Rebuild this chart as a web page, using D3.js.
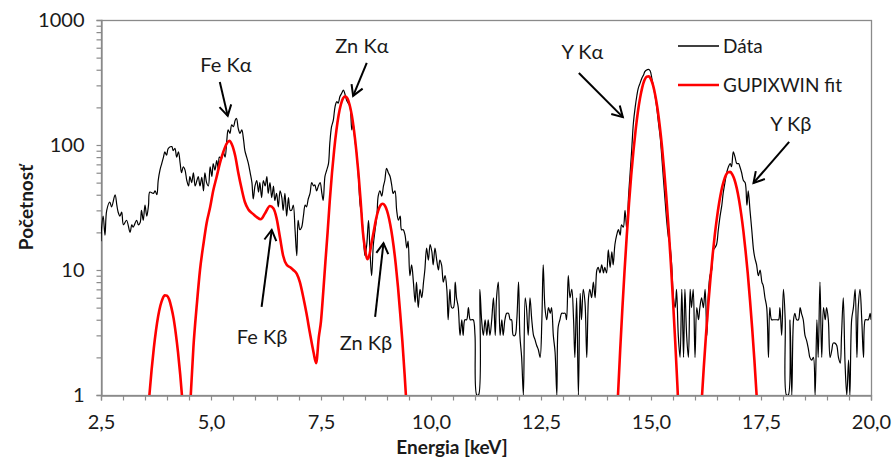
<!DOCTYPE html>
<html>
<head>
<meta charset="utf-8">
<script src="https://cdn.jsdelivr.net/npm/d3@7"></script>
<style>
  body { margin: 0; background: #fff; }
  svg { display: block; }
  text { font-family: Lato, "Open Sans", "Liberation Sans", sans-serif; fill: #1a1a1a; }
</style>
</head>
<body>
<svg id="chart" width="893" height="462"></svg>
<script>
// ---------- data (energy keV, counts) ----------
const measured = [
[2.50,17],[2.51,21],[2.55,27],[2.59,19],[2.63,30],[2.70,35],[2.74,32],[2.82,40],[2.86,33],[2.89,29],[2.93,27],[2.97,29],[3.01,23],[3.08,25],[3.16,20],[3.20,23],[3.23,22],[3.31,25],[3.35,23],[3.39,24],[3.42,30],[3.46,25],[3.50,33],[3.54,27],[3.58,33],[3.61,42],[3.69,41],[3.73,43],[3.77,40],[3.80,52],[3.84,63],[3.88,71],[3.92,80],[3.95,88],[3.99,83],[4.03,94],[4.11,97],[4.14,90],[4.18,94],[4.22,80],[4.26,88],[4.30,71],[4.33,60],[4.37,67],[4.41,63],[4.45,52],[4.49,47],[4.52,56],[4.56,50],[4.60,60],[4.64,47],[4.68,52],[4.71,56],[4.75,47],[4.79,55],[4.83,43],[4.86,60],[4.90,50],[4.94,47],[4.98,67],[5.02,56],[5.05,71],[5.09,63],[5.13,75],[5.17,63],[5.19,80],[5.24,78],[5.28,88],[5.32,80],[5.36,110],[5.39,132],[5.43,124],[5.47,145],[5.51,140],[5.55,158],[5.58,163],[5.62,135],[5.66,124],[5.70,132],[5.74,110],[5.77,90],[5.81,80],[5.85,71],[5.89,60],[5.93,50],[5.96,37],[6.00,47],[6.04,52],[6.08,42],[6.11,50],[6.15,38],[6.19,52],[6.23,47],[6.27,56],[6.30,41],[6.34,50],[6.38,38],[6.42,47],[6.45,36],[6.49,41],[6.53,32],[6.57,43],[6.61,38],[6.64,30],[6.68,41],[6.72,27],[6.76,38],[6.80,30],
[6.83,30],[6.87,33],[6.91,21],[6.95,13],[6.98,25],[7.02,21],[7.06,22],[7.10,27],[7.14,33],[7.17,32],[7.21,37],[7.25,41],[7.29,50],[7.33,47],[7.36,48],[7.40,43],[7.44,47],[7.48,50],[7.52,41],[7.55,36],[7.59,56],[7.63,63],[7.67,71],[7.70,103],[7.74,140],[7.78,158],[7.82,203],[7.86,222],[7.89,216],[7.93,244],[7.97,259],[8.01,275],[8.05,251],[8.08,229],[8.12,216],[8.16,203],[8.20,132],[8.23,149],[8.27,110],[8.31,86],[8.35,56],[8.39,33],[8.42,29],[8.46,19],[8.50,13],[8.54,16],[8.58,25],[8.61,15],[8.65,9],[8.69,16],[8.73,21],[8.77,27],[8.80,39],[8.84,43],[8.88,39],[8.92,47],[8.95,52],[8.99,65],[9.03,60],[9.07,56],[9.11,47],[9.14,41],[9.18,43],[9.22,30],[9.26,25],[9.30,27],[9.33,21],[9.37,21],[9.41,19],[9.45,15],[9.48,17],[9.52,9],[9.56,11],[9.60,8],[9.64,5.5],[9.67,8],[9.71,5],[9.75,7],[9.79,6],[9.83,8],[9.86,10],[9.90,15],[9.94,12],[9.98,16],[10.02,14],[10.05,11],[10.09,15],[10.13,12],[10.17,10],[10.20,12],[10.24,11],[10.28,8],[10.32,9],[10.36,7],[10.39,4],[10.43,7],[10.47,5],[10.51,5],[10.55,8],[10.58,6],[10.62,5],[10.66,3],[10.70,4],[10.73,3],[10.77,4],[10.81,4],[10.85,5],[10.89,4],[10.92,4],[10.96,4],[11.00,3],[11.04,1],[11.08,1],[11.11,7],
[11.15,4],[11.19,3],[11.23,4],[11.27,3],[11.30,4],[11.34,3],[11.38,4],[11.42,6],[11.46,3],[11.49,6],[11.53,8],[11.57,3],[11.61,4],[11.64,3],[11.68,4],[11.72,4.5],[11.76,4.5],[11.80,4],[11.83,4],[11.87,3],[11.91,3],[11.95,4],[11.99,8],[12.02,3],[12.06,2],[12.10,1],[12.14,6],[12.17,5],[12.21,3],[12.25,6],[12.29,4],[12.33,3],[12.36,2.8],[12.40,2.5],[12.44,2.3],[12.48,2],[12.52,4],[12.55,11],[12.59,5],[12.63,4],[12.67,5],[12.71,4.5],[12.74,5],[12.78,3],[12.82,2.2],[12.86,1],[12.89,3.5],[12.93,4],[12.97,4.5],[13.01,4.5],[13.05,4.5],[13.08,4],[13.12,9],[13.16,6],[13.20,7],[13.24,4],[13.27,2],[13.31,6],[13.35,1],[13.39,6.5],[13.42,4],[13.46,7],[13.50,5.5],[13.54,2],[13.58,6],[13.61,7],[13.65,6],[13.69,8],[13.73,6],[13.77,10],[13.80,10.5],[13.84,9.5],[13.88,11],[13.92,9.5],[13.95,10.5],[13.99,9.5],[14.03,14.5],[14.07,10.5],[14.11,14],[14.14,11],[14.18,16],[14.22,19],[14.26,21],[14.30,19],[14.33,23],[14.37,22],[14.41,30],[14.45,21],[14.49,39],[14.52,56],[14.56,90],[14.60,150],[14.64,200],[14.68,250],[14.71,284],[14.75,311],[14.79,341],[14.83,363],[14.86,386],[14.90,398],[14.94,403],[14.98,393],[15.02,340],[15.05,300],[15.09,250],[15.13,200],[15.17,150],[15.21,115],[15.24,85],[15.28,55],[15.32,36],[15.36,24],[15.39,19],
[15.43,16],[15.47,11],[15.51,6],[15.55,5],[15.58,7],[15.62,3],[15.66,2],[15.70,7],[15.74,2],[15.77,7],[15.81,3],[15.85,2],[15.89,7],[15.92,5],[15.96,7],[16.00,2],[16.04,5],[16.08,4],[16.11,5],[16.15,6],[16.19,5],[16.23,7],[16.27,3],[16.30,6],[16.34,9],[16.38,10],[16.42,14.5],[16.45,15],[16.49,16],[16.53,21],[16.57,27],[16.61,33],[16.64,41],[16.68,50],[16.72,60],[16.76,67],[16.80,71],[16.83,67],[16.87,88],[16.91,80],[16.95,71],[16.99,71],[17.02,67],[17.06,60],[17.10,52],[17.14,50],[17.18,33],[17.21,43],[17.25,30],[17.29,21],[17.33,14.5],[17.36,12.5],[17.40,11],[17.44,9],[17.48,10],[17.52,8],[17.55,7.5],[17.59,6],[17.63,5],[17.67,2],[17.70,5],[17.74,4],[17.78,4],[17.82,4],[17.86,4],[17.90,4],[17.93,5],[17.97,3],[18.01,7],[18.05,4],[18.08,1],[18.12,1],[18.16,4],[18.20,1],[18.24,4],[18.27,4.5],[18.31,4],[18.35,4],[18.39,5],[18.42,4.5],[18.46,4],[18.50,3],[18.54,2.7],[18.58,2.3],[18.61,2],[18.65,1.9],[18.69,2],[18.73,1],[18.77,4],[18.80,2],[18.84,8],[18.88,2],[18.92,5],[18.96,4],[18.99,5],[19.03,4],[19.07,2],[19.11,2.3],[19.14,2.6],[19.18,2.6],[19.22,2.5],[19.26,2],[19.30,1.8],[19.33,3],[19.37,6],[19.41,1.8],[19.45,1],[19.49,1.9],[19.52,1],[19.56,4],[19.60,5],[19.64,7],[19.68,2],[19.71,5],[19.75,7],[19.79,4],[19.83,2],[19.87,4],[19.90,4],[19.94,4],[19.98,4.5],[20.00,4]
];

const fitCurve = [
[3.50,0.3],[3.55,0.59],[3.60,1.0],[3.65,1.59],[3.70,2.36],[3.75,3.29],[3.80,4.28],[3.85,5.2],[3.90,5.9],[3.95,6.28],[4.00,6.23],[4.05,5.8],[4.10,5.0],[4.15,4.1],[4.20,3.1],[4.25,2.2],[4.30,1.46],[4.35,0.9],[4.40,0.52],[4.45,0.3],
[4.48,0.3],[4.50,0.5],[4.54,1.0],[4.60,2.4],[4.68,5.4],[4.75,10],[4.83,16.3],[4.90,23.7],[4.98,31.7],[5.05,43],[5.13,56],[5.20,71],[5.28,88],[5.36,103],[5.42,108],[5.47,102],[5.55,82],[5.62,60],[5.70,44],[5.77,35],[5.85,30.5],[5.96,28],[6.04,26.5],[6.13,25.5],[6.23,28.5],[6.34,32.5],[6.42,31],[6.49,26],[6.57,18],[6.64,13],[6.72,11],[6.80,10.5],[6.87,10],[6.95,9.3],[7.02,8],[7.10,6],[7.17,4.5],[7.25,3.1],[7.33,2.2],[7.39,1.8],[7.45,2.9],[7.50,3.9],[7.55,6.6],[7.60,11.6],[7.65,20],[7.70,36],[7.75,60],[7.80,92],[7.85,131],[7.90,173],[7.95,210],[8.00,236],[8.05,245],[8.10,236],[8.15,210],[8.20,173],[8.25,131],[8.30,92],[8.35,60],[8.40,36],[8.45,20.5],[8.50,14.8],[8.55,12.2],[8.60,13.2],[8.65,16.5],[8.70,20.5],[8.75,25.5],[8.80,29.9],[8.85,32.8],[8.90,33.9],[8.95,32.8],[9.00,29.9],[9.05,25.5],[9.10,20.5],[9.15,15.5],[9.20,11],[9.25,7.3],[9.30,4.5],[9.35,2.67],[9.40,1.47],[9.45,0.76],[9.50,0.38],
[14.15,0.16],[14.20,0.41],[14.25,1.0],[14.30,2.3],[14.35,4.95],[14.40,10],[14.45,19],[14.50,34],[14.55,57],[14.60,89],[14.65,131],[14.70,182],[14.75,236],[14.80,288],[14.85,329],[14.90,352],[14.95,355],[15.00,335],[15.05,297],[15.10,247],[15.15,193],[15.20,141],[15.25,97],[15.30,62.5],[15.35,37.8],[15.40,21.5],[15.45,11.5],[15.50,5.7],[15.55,2.7],[15.60,1.19],[15.65,0.49],[15.70,0.19],
[16.05,0.2],[16.10,0.43],[16.15,0.87],[16.20,1.67],[16.25,3.03],[16.30,5.2],[16.35,8.45],[16.40,13.1],[16.45,19.1],[16.50,26.4],[16.55,34.7],[16.60,43.3],[16.65,51],[16.70,57.2],[16.75,60.6],[16.80,61],[16.85,58],[16.90,52.5],[16.95,45],[17.00,36.5],[17.05,28],[17.10,20.5],[17.15,14.1],[17.20,9.3],[17.25,5.75],[17.30,3.4],[17.35,1.9],[17.40,1.0],[17.45,0.5],[17.50,0.23]
];

const xTickValues = [2.5, 5, 7.5, 10, 12.5, 15, 17.5, 20];
const yTickValues = [1, 10, 100, 1000];
const seriesNames = ["Dáta", "GUPIXWIN fit"];
const axisTitles = { x: "Energia [keV]", y: "Početnosť" };
// annotation: label, text anchor (E, counts), arrow tail and tip (E, counts)
const annotations = [
  { label: "Fe Kα", tE: 5.34, tV: 437, aE: 5.20, aV: 319, bE: 5.38, bV: 171 },
  { label: "Fe Kβ", tE: 6.16, tV: 2.91, aE: 6.15, aV: 5.06, bE: 6.38, bV: 20.9 },
  { label: "Zn Kα", tE: 8.43, tV: 619, aE: 8.54, aV: 453, bE: 8.23, bV: 247 },
  { label: "Zn Kβ", tE: 8.52, tV: 2.61, aE: 8.73, aV: 4.21, bE: 8.92, bV: 16.4 },
  { label: "Y Kα", tE: 13.44, tV: 555, aE: 13.36, aV: 377, bE: 14.36, bV: 167 },
  { label: "Y Kβ", tE: 18.18, tV: 147, aE: 18.14, aV: 106, bE: 17.33, bV: 49.7 }
];

// ---------- layout ----------
const W = 893, H = 462;
const plot = { left: 101, right: 871, top: 20, bottom: 395 };
const AXIS = "#8a8a8a";
const FONT = "Lato, 'Open Sans', sans-serif";

const svg = d3.select("#chart");
const x = d3.scaleLinear().domain([2.5, 20]).range([plot.left, plot.right]);
const y = d3.scaleLog().domain([1, 1000]).range([plot.bottom, plot.top]);

svg.append("defs").append("clipPath").attr("id", "clip")
  .append("rect").attr("x", plot.left).attr("y", plot.top)
  .attr("width", plot.right - plot.left).attr("height", plot.bottom - plot.top);

// plot border
svg.append("rect").attr("x", plot.left + 0.5).attr("y", plot.top + 0.5)
  .attr("width", plot.right - plot.left).attr("height", plot.bottom - plot.top)
  .attr("fill", "none").attr("stroke", AXIS).attr("stroke-width", 1.3);

// y axis
const yMinor = [];
[1, 10, 100].forEach(d => { for (let k = 1; k < 10; k++) yMinor.push(d * k); });
yMinor.push(1000);
const yAxis = d3.axisLeft(y).tickValues(yMinor).tickSize(5).tickPadding(12)
  .tickFormat(d => yTickValues.includes(d) ? String(d) : "");
const gy = svg.append("g").attr("transform", `translate(${plot.left + 0.5},0)`).call(yAxis);
gy.select(".domain").attr("stroke", AXIS).attr("stroke-width", 1.3);
gy.selectAll(".tick line").attr("stroke", AXIS).attr("stroke-width", 1.2);
gy.selectAll(".tick text").attr("font-size", 20).attr("fill", "#1a1a1a")
  .style("font-family", FONT);

// x axis
const xMinor = d3.range(2.5, 20.001, 0.5);
const fmt = d => d.toFixed(1).replace(".", ",");
const xAxis = d3.axisBottom(x).tickValues(xMinor).tickSize(5).tickPadding(14)
  .tickFormat(d => xTickValues.some(v => Math.abs(v - d) < 1e-6) ? fmt(d) : "");
const gx = svg.append("g").attr("transform", `translate(0,${plot.bottom + 0.5})`).call(xAxis);
gx.select(".domain").attr("stroke", AXIS).attr("stroke-width", 1.3);
gx.selectAll(".tick line").attr("stroke", AXIS).attr("stroke-width", 1.2);
gx.selectAll(".tick text").attr("font-size", 20).attr("fill", "#1a1a1a")
  .style("font-family", FONT);

// axis titles
svg.append("text").attr("x", 452).attr("y", 454)
  .attr("text-anchor", "middle").attr("font-size", 19).attr("font-weight", "bold")
  .text(axisTitles.x);
svg.append("text").attr("transform", `translate(33,${(plot.top + plot.bottom) / 2}) rotate(-90)`)
  .attr("text-anchor", "middle").attr("font-size", 19).attr("font-weight", "bold")
  .text(axisTitles.y);

// lines
const g = svg.append("g").attr("clip-path", "url(#clip)");
const lineData = d3.line().x(d => x(d[0])).y(d => y(Math.max(d[1], 0.05)))
  .curve(d3.curveCatmullRom.alpha(0.5));
const lineFit = d3.line().x(d => x(d[0])).y(d => y(Math.max(d[1], 0.05)))
  .curve(d3.curveMonotoneX);

g.append("path").datum(measured).attr("d", lineData)
  .attr("fill", "none").attr("stroke", "#000").attr("stroke-width", 1.2)
  .attr("stroke-linejoin", "round");
g.append("path").datum(fitCurve).attr("d", lineFit)
  .attr("fill", "none").attr("stroke", "#ff0000").attr("stroke-width", 2.6)
  .attr("stroke-linejoin", "round");

// legend
const legend = svg.append("g");
const legendColors = ["#000", "#ff0000"];
const legendWidths = [1.3, 2.6];
seriesNames.forEach((name, i) => {
  const ly = 46 + i * 39;
  legend.append("line").attr("x1", 678).attr("x2", 719).attr("y1", ly).attr("y2", ly)
    .attr("stroke", legendColors[i]).attr("stroke-width", legendWidths[i]);
  legend.append("text").attr("x", 723).attr("y", ly + 7).attr("font-size", 19).text(name);
});

// annotations
const ann = svg.append("g");
annotations.forEach(a => {
  ann.append("text").attr("x", x(a.tE)).attr("y", y(a.tV) + 7)
    .attr("text-anchor", "middle").attr("font-size", 20).text(a.label);
  const x1 = x(a.aE), y1 = y(a.aV), x2 = x(a.bE), y2 = y(a.bV);
  ann.append("line").attr("x1", x1).attr("y1", y1).attr("x2", x2).attr("y2", y2)
    .attr("stroke", "#000").attr("stroke-width", 2);
  const ang = Math.atan2(y2 - y1, x2 - x1);
  const L = 12, spread = Math.PI / 6;
  const p1 = [x2 - L * Math.cos(ang - spread), y2 - L * Math.sin(ang - spread)];
  const p2 = [x2 - L * Math.cos(ang + spread), y2 - L * Math.sin(ang + spread)];
  ann.append("path").attr("d", `M${p1[0]},${p1[1]}L${x2},${y2}L${p2[0]},${p2[1]}`)
    .attr("fill", "none").attr("stroke", "#000").attr("stroke-width", 2)
    .attr("stroke-linejoin", "miter");
});
</script>
</body>
</html>
